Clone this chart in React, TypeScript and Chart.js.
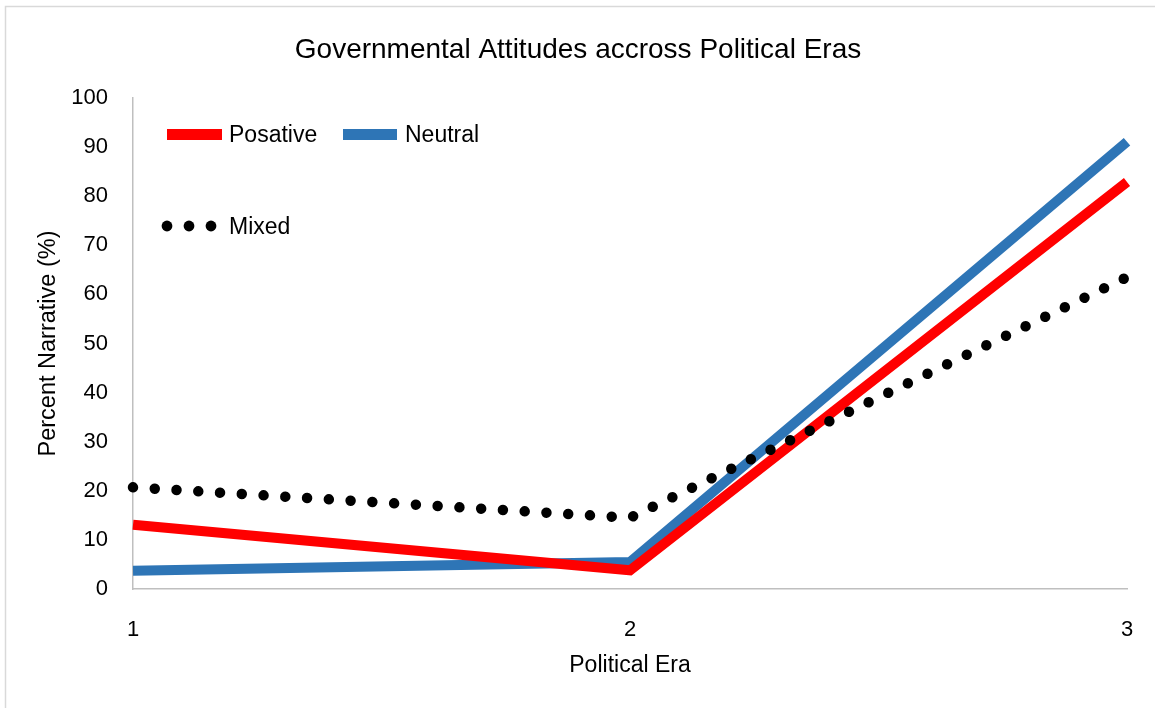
import React, { useEffect, useRef } from "react";
import { Chart, registerables } from "chart.js";

Chart.register(...registerables);

const eras = [1, 2, 3];
const posative = [13.1, 3.8, 82.9];
const neutral = [3.7, 5.5, 91.1];
const mixed = [20.7, 14.5, 63.5];
const yTicks = [0, 10, 20, 30, 40, 50, 60, 70, 80, 90, 100];

const FONT = "'Liberation Sans', Arial, sans-serif";
const RED = "#ff0000";
const BLUE = "#2e75b6";

const decorPlugin = {
  id: "decor",
  beforeDraw(chart: any) {
    const ctx = chart.ctx;
    ctx.save();
    ctx.fillStyle = "#ffffff";
    ctx.fillRect(0, 0, chart.width, chart.height);
    ctx.strokeStyle = "#d9d9d9";
    ctx.lineWidth = 1.5;
    ctx.strokeRect(5.5, 6.5, chart.width + 20, chart.height + 20);
    ctx.restore();
  },
  afterDraw(chart: any) {
    const ctx = chart.ctx;
    ctx.save();
    ctx.fillStyle = "#000000";
    ctx.font = `28px ${FONT}`;
    ctx.textAlign = "center";
    ctx.textBaseline = "alphabetic";
    ctx.fillText("Governmental Attitudes accross Political Eras", 578, 58);

    // legend
    ctx.font = `23px ${FONT}`;
    ctx.textAlign = "left";
    ctx.lineCap = "butt";
    ctx.lineWidth = 11;
    ctx.strokeStyle = RED;
    ctx.beginPath();
    ctx.moveTo(167, 134.5);
    ctx.lineTo(222, 134.5);
    ctx.stroke();
    ctx.fillText("Posative", 229, 142);
    ctx.strokeStyle = BLUE;
    ctx.beginPath();
    ctx.moveTo(343, 134.5);
    ctx.lineTo(397, 134.5);
    ctx.stroke();
    ctx.fillText("Neutral", 405, 142);
    ctx.fillStyle = "#000000";
    [167, 189, 211].forEach((x) => {
      ctx.beginPath();
      ctx.arc(x, 226, 5.4, 0, Math.PI * 2);
      ctx.fill();
    });
    ctx.fillText("Mixed", 229, 234);
    ctx.restore();
  },
};

export default function App() {
  const ref = useRef<HTMLCanvasElement>(null);
  useEffect(() => {
    const chart = new Chart(ref.current as HTMLCanvasElement, {
      type: "line",
      data: {
        datasets: [
          {
            label: "Mixed",
            data: eras.map((x, i) => ({ x, y: mixed[i] })),
            borderColor: "#000000",
            borderWidth: 10.5,
            borderDash: [0.001, 21.8],
            borderCapStyle: "round",
            pointRadius: 0,
            tension: 0,
            fill: false,
            clip: false as any,
          },
          {
            label: "Posative",
            data: eras.map((x, i) => ({ x, y: posative[i] })),
            borderColor: RED,
            borderWidth: 10,
            borderCapStyle: "butt",
            borderJoinStyle: "miter",
            pointRadius: 0,
            tension: 0,
            fill: false,
            clip: false as any,
          },
          {
            label: "Neutral",
            data: eras.map((x, i) => ({ x, y: neutral[i] })),
            borderColor: BLUE,
            borderWidth: 10,
            borderCapStyle: "butt",
            borderJoinStyle: "miter",
            pointRadius: 0,
            tension: 0,
            fill: false,
            clip: false as any,
          },
        ],
      },
      options: {
        animation: false,
        responsive: false,
        maintainAspectRatio: false,
        layout: { padding: { top: 98, right: 28, left: 0, bottom: 0 } },
        plugins: {
          legend: { display: false },
          title: { display: false },
          tooltip: { enabled: false },
        },
        scales: {
          x: {
            type: "linear",
            min: 1,
            max: 3,
            afterFit: (s: any) => {
              s.height = 119;
              s.paddingLeft = 0;
              s.paddingRight = 0;
            },
            afterBuildTicks: (s: any) => {
              s.ticks = eras.map((v) => ({ value: v }));
            },
            grid: { display: false, drawTicks: false },
            border: { display: true, color: "#bfbfbf", width: 1.5 },
            ticks: {
              padding: 28,
              color: "#000000",
              font: { family: FONT, size: 22 },
              maxRotation: 0,
              autoSkip: false,
            },
            title: {
              display: true,
              text: "Political Era",
              color: "#000000",
              font: { family: FONT, size: 23, lineHeight: 1 },
              padding: { top: 0, bottom: 31 },
            },
          },
          y: {
            min: 0,
            max: 100,
            afterFit: (s: any) => {
              s.width = 133;
            },
            afterBuildTicks: (s: any) => {
              s.ticks = yTicks.map((v) => ({ value: v }));
            },
            grid: { display: false, drawTicks: false },
            border: { display: true, color: "#bfbfbf", width: 1.5 },
            ticks: {
              padding: 25,
              color: "#000000",
              font: { family: FONT, size: 22 },
              autoSkip: false,
            },
            title: {
              display: true,
              text: "Percent Narrative (%)",
              color: "#000000",
              font: { family: FONT, size: 23.5, lineHeight: 1 },
              padding: { top: 37, bottom: 0 },
            },
          },
        },
      },
      plugins: [decorPlugin],
    } as any);
    return () => chart.destroy();
  }, []);
  return (
    <div style={{ position: "fixed", left: 0, top: 0, width: 1155, height: 708, background: "#fff" }}>
      <canvas ref={ref} width={1155} height={708} style={{ width: 1155, height: 708, display: "block" }} />
    </div>
  );
}
